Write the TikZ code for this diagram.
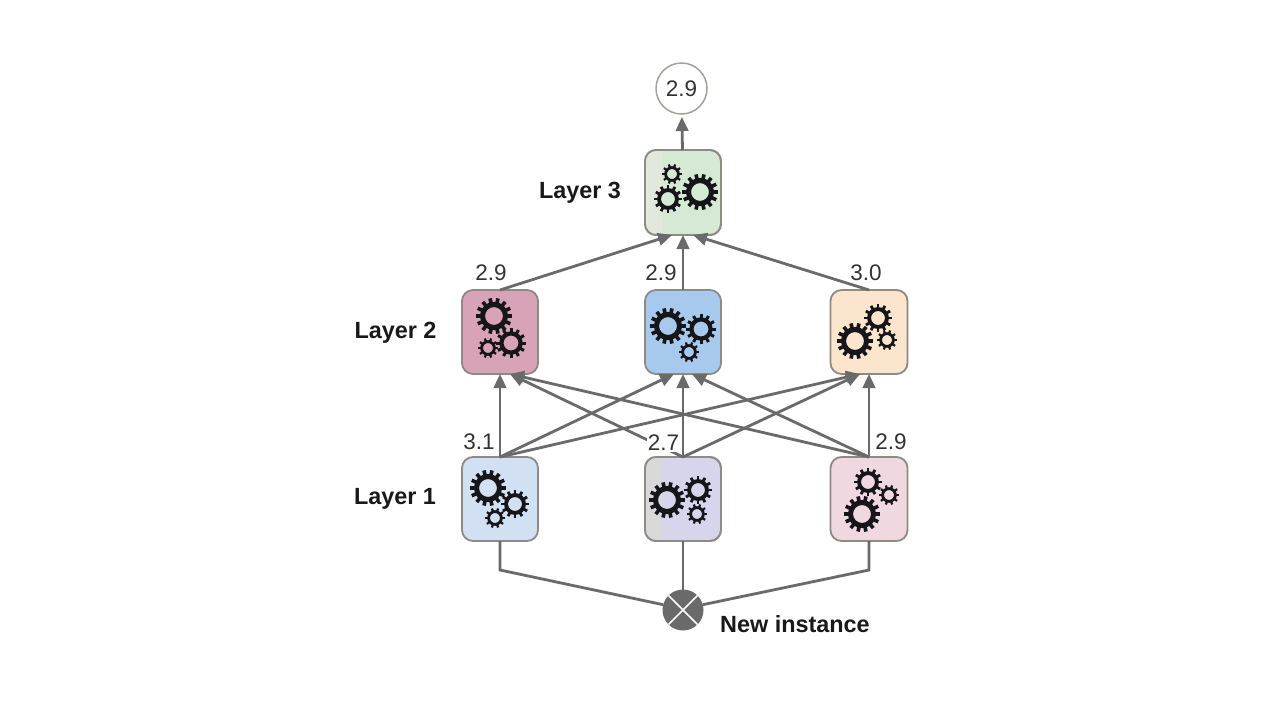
\documentclass[tikz,border=0pt]{standalone}
\usepackage{fontspec}
\setmainfont{Liberation Sans}
\usetikzlibrary{arrows.meta,calc}
\definecolor{linec}{HTML}{6A6A6A}
\definecolor{edgec}{HTML}{8E8A86}
\definecolor{gearc}{HTML}{15151A}
\definecolor{cthree}{RGB}{214,233,212}
\definecolor{ctwoa}{RGB}{216,162,183}
\definecolor{ctwob}{RGB}{168,201,238}
\definecolor{ctwoc}{RGB}{251,230,205}
\definecolor{conea}{RGB}{209,225,243}
\definecolor{coneb}{RGB}{214,213,236}
\definecolor{conec}{RGB}{240,216,225}
\definecolor{stripa}{RGB}{226,232,219}
\definecolor{stripb}{RGB}{217,217,217}
\tikzset{
  box/.style={draw=edgec,line width=1.8pt,rounded corners=11pt,minimum width=76pt,minimum height=84pt,inner sep=0pt,outer sep=0pt},
  conn/.style={draw=linec,line width=2.8pt},
  arr/.style={conn,-{Triangle[length=14pt,width=12.5pt]}},
  val/.style={font=\fontsize{22.5}{26}\selectfont,text=black!80,inner sep=1pt},
  lay/.style={font=\fontsize{23.4}{27}\selectfont\bfseries,text=black!90,inner sep=0pt},
}
% \gearat{x}{y}{radius}{teeth}
\newcommand{\gearat}[4]{%
  \pgfmathsetmacro{\ringr}{0.64*#3}%
  \pgfmathsetmacro{\ringw}{max(0.28*#3,2.8)}%
  \pgfmathsetmacro{\toothw}{max(0.2*#3,2.2)}%
  \draw[gearc,line width=\ringw pt] (#1,#2) circle[radius=\ringr];
  \pgfmathsetmacro{\stepa}{360/#4}%
  \foreach \k in {1,...,#4}{%
    \pgfmathsetmacro{\ang}{\k*\stepa}%
    \draw[gearc,line width=\toothw pt] ($(#1,#2)+(\ang:\ringr)$) -- ($(#1,#2)+(\ang:#3)$);
  }%
}
\begin{document}
\begin{tikzpicture}[x=1pt,y=-1pt]
\useasboundingbox (0,0) rectangle (1280,720);
\fill[white] (0,0) rectangle (1280,720);
% boxes
\node[box,fill=cthree,minimum height=85pt] (l3) at (683,192.5) {};
\node[box,fill=ctwoa] (l2a) at (500,332) {};
\node[box,fill=ctwob] (l2b) at (683,332) {};
\node[box,fill=ctwoc,minimum width=77pt] (l2c) at (869,332) {};
\node[box,fill=conea] (l1a) at (500,499) {};
\node[box,fill=coneb] (l1b) at (683,499) {};
\node[box,fill=conec,minimum width=77pt] (l1c) at (869,499) {};
% lighter strips on two boxes
\begin{scope}
\clip[rounded corners=11pt] (645.5,150.5) rectangle (720.5,234.5);
\fill[stripa] (645,150) rectangle (662,235);
\end{scope}
\begin{scope}
\clip[rounded corners=11pt] (645.5,457.5) rectangle (720.5,540.5);
\fill[stripb] (645,457) rectangle (662,541);
\end{scope}
\draw[edgec,line width=1.8pt,rounded corners=11pt] (l3.south west) rectangle (l3.north east);
\draw[edgec,line width=1.8pt,rounded corners=11pt] (l1b.south west) rectangle (l1b.north east);
% gears
\gearat{700}{192}{18}{14}\gearat{668}{199}{14}{12}\gearat{672}{174}{10}{10}
\gearat{494}{316}{18}{14}\gearat{511}{343}{15}{12}\gearat{488}{348}{10}{10}
\gearat{668}{326}{18}{14}\gearat{701}{329}{15}{12}\gearat{689}{352}{10}{10}
\gearat{855}{341}{18}{14}\gearat{878}{318}{14}{12}\gearat{887}{340}{10}{10}
\gearat{488}{488}{18}{14}\gearat{515}{504}{14}{12}\gearat{495}{518}{10}{10}
\gearat{667}{500}{18}{14}\gearat{698}{490}{14}{12}\gearat{697}{514}{10}{10}
\gearat{862}{514}{18}{14}\gearat{868}{482}{14}{12}\gearat{889}{495}{10}{10}
% output and input
\node[circle,draw=edgec!80,line width=1.5pt,fill=white,minimum size=51pt,inner sep=0pt,outer sep=0pt,font=\fontsize{22.5}{26}\selectfont,text=black!80] (out) at (681.5,88.5) {2.9};
\node[circle,fill=linec,minimum size=41pt,inner sep=0pt,outer sep=0pt] (inp) at (683,610) {};
\draw[white,line width=1.5pt] (inp.45) -- (inp.225) (inp.135) -- (inp.315);
% connectors
\coordinate (kl) at (500,570);
\coordinate (kr) at (869,570);
\draw[conn] (inp.165) -- (kl) -- (l1a.south);
\draw[conn] (inp.north) -- (l1b.south);
\draw[conn] (inp.15) -- (kr) -- (l1c.south);
\draw[arr] (l1a.north) -- (l2a.south);
\draw[arr] (l1a.north) -- ([xshift=-9pt]l2b.south);
\draw[arr] (l1a.north) -- ([xshift=-9pt]l2c.south);
\draw[arr] (l1b.north) -- ([xshift=10pt]l2a.south);
\draw[arr] (l1b.north) -- (l2b.south);
\draw[arr] (l1b.north) -- ([xshift=-9pt]l2c.south);
\draw[arr] (l1c.north) -- ([xshift=10pt]l2a.south);
\draw[arr] (l1c.north) -- ([xshift=9pt]l2b.south);
\draw[arr] (l1c.north) -- (l2c.south);
\draw[arr] (l2a.north) -- ([xshift=-11pt]l3.south);
\draw[arr] (l2b.north) -- (l3.south);
\draw[arr] (l2c.north) -- ([xshift=10pt]l3.south);
\draw[arr,shorten >=3pt] ([xshift=-0.5pt]l3.north) -- ([xshift=0.3pt]out.south);
% value labels
\node[val] (v1) at (491,273) {2.9};
\node[val] (v2) at (661,273) {2.9};
\node[val] (v3) at (866,273) {3.0};
\node[val] (v4) at (479,442) {3.1};
\node[val,fill=white] (v5) at (663.5,443) {2.7};
\node[val] (v6) at (891,442) {2.9};
\draw[conn] (l1b.north) -- ++(0,-20);
\node[lay] (t3) at (580,192.5) {Layer 3};
\node[lay] (t2) at (395.5,332.5) {Layer 2};
\node[lay] (t1) at (395,499) {Layer 1};
\node[lay] (t0) at (795,624.5) {New instance};
\end{tikzpicture}
\end{document}
